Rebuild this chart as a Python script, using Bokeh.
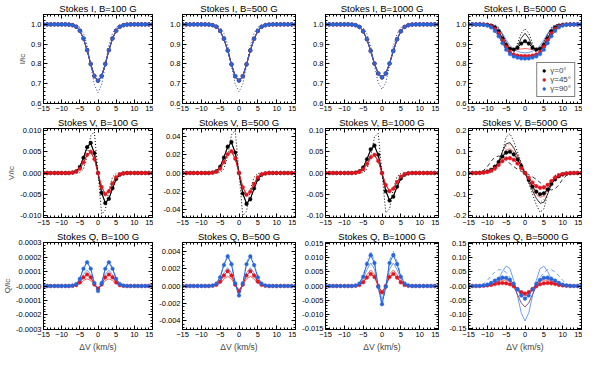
import math
from bokeh.plotting import figure
from bokeh.layouts import gridplot
from bokeh.models import (Range1d, SingleIntervalTicker, FixedTicker, PrintfTickFormatter,
                          LinearAxis, Legend, LegendItem)
from bokeh.embed import file_html
from bokeh.resources import INLINE

# ---------------- data ----------------
VEL = [-15, -14, -13, -12, -11, -10, -9, -8, -7, -6, -5, -4, -3, -2, -1, 0,
       1, 2, 3, 4, 5, 6, 7, 8, 9, 10, 11, 12, 13, 14, 15]

# Stokes I
I100_SYM = [1, 1, 1, 1, 1, 1, 1, 0.999, 0.996, 0.988, 0.968, 0.929, 0.870, 0.800, 0.739, 0.715,
            0.739, 0.800, 0.870, 0.929, 0.968, 0.988, 0.996, 0.999, 1, 1, 1, 1, 1, 1, 1]
I100_SOL = [1, 1, 1, 1, 1, 1, 1, 0.999, 0.996, 0.987, 0.966, 0.926, 0.866, 0.795, 0.734, 0.710,
            0.734, 0.795, 0.866, 0.926, 0.966, 0.987, 0.996, 0.999, 1, 1, 1, 1, 1, 1, 1]
I100_DOT = [1, 1, 1, 1, 1, 1, 1, 1.000, 0.999, 0.996, 0.985, 0.955, 0.895, 0.790, 0.695, 0.655,
            0.695, 0.790, 0.895, 0.955, 0.985, 0.996, 0.999, 1.000, 1, 1, 1, 1, 1, 1, 1]
I500_SYM = [1, 1, 1, 1, 1, 1, 1, 0.999, 0.996, 0.988, 0.967, 0.927, 0.868, 0.798, 0.738, 0.716,
            0.738, 0.798, 0.868, 0.927, 0.967, 0.988, 0.996, 0.999, 1, 1, 1, 1, 1, 1, 1]
I500_SOL = [1, 1, 1, 1, 1, 1, 1, 0.999, 0.996, 0.987, 0.965, 0.925, 0.864, 0.793, 0.733, 0.711,
            0.733, 0.793, 0.864, 0.925, 0.965, 0.987, 0.996, 0.999, 1, 1, 1, 1, 1, 1, 1]
I500_DOT = [1, 1, 1, 1, 1, 1, 1, 1.000, 0.999, 0.996, 0.985, 0.955, 0.894, 0.790, 0.697, 0.660,
            0.697, 0.790, 0.894, 0.955, 0.985, 0.996, 0.999, 1.000, 1, 1, 1, 1, 1, 1, 1]
I1000_SYM = [1, 1, 1, 1, 1, 1, 1, 0.999, 0.996, 0.987, 0.965, 0.925, 0.866, 0.802, 0.752, 0.732,
             0.752, 0.802, 0.866, 0.925, 0.965, 0.987, 0.996, 0.999, 1, 1, 1, 1, 1, 1, 1]
I1000_SOL = [1, 1, 1, 1, 1, 1, 1, 0.999, 0.996, 0.986, 0.964, 0.923, 0.862, 0.797, 0.746, 0.726,
             0.746, 0.797, 0.862, 0.923, 0.964, 0.986, 0.996, 0.999, 1, 1, 1, 1, 1, 1, 1]
I1000_DOT = [1, 1, 1, 1, 1, 1, 1, 1.000, 0.999, 0.995, 0.983, 0.952, 0.890, 0.790, 0.705, 0.672,
             0.705, 0.790, 0.890, 0.952, 0.983, 0.995, 0.999, 1.000, 1, 1, 1, 1, 1, 1, 1]
I5000_SYM_G0 = [1, 1, 1, 1, 0.999, 0.998, 0.994, 0.984, 0.965, 0.928, 0.895, 0.877, 0.873, 0.882, 0.903, 0.915,
                0.903, 0.882, 0.873, 0.877, 0.895, 0.928, 0.965, 0.984, 0.994, 0.998, 0.999, 1, 1, 1, 1]
I5000_SOL_G0 = [1, 1, 1, 1, 1, 0.999, 0.998, 0.993, 0.978, 0.950, 0.910, 0.878, 0.870, 0.888, 0.930, 0.955,
                0.930, 0.888, 0.870, 0.878, 0.910, 0.950, 0.978, 0.993, 0.998, 0.999, 1, 1, 1, 1, 1]
I5000_DOT_G0 = [1, 1, 1, 1, 1, 1, 1, 0.998, 0.985, 0.950, 0.890, 0.845, 0.855, 0.905, 0.955, 0.978,
                0.955, 0.905, 0.855, 0.845, 0.890, 0.950, 0.985, 0.998, 1, 1, 1, 1, 1, 1, 1]
I5000_SYM_G45 = [1, 1, 1, 1, 0.999, 0.997, 0.991, 0.978, 0.955, 0.920, 0.887, 0.862, 0.848, 0.842, 0.840, 0.840,
                 0.840, 0.842, 0.848, 0.862, 0.887, 0.920, 0.955, 0.978, 0.991, 0.997, 0.999, 1, 1, 1, 1]
I5000_SOL_G45 = [1, 1, 1, 1, 1, 0.999, 0.996, 0.986, 0.965, 0.935, 0.902, 0.878, 0.870, 0.872, 0.876, 0.878,
                 0.876, 0.872, 0.870, 0.878, 0.902, 0.935, 0.965, 0.986, 0.996, 0.999, 1, 1, 1, 1, 1]
I5000_SYM_G90 = [1, 1, 1, 0.999, 0.998, 0.994, 0.985, 0.967, 0.940, 0.905, 0.872, 0.850, 0.838, 0.832, 0.828, 0.827,
                 0.828, 0.832, 0.838, 0.850, 0.872, 0.905, 0.940, 0.967, 0.985, 0.994, 0.998, 0.999, 1, 1, 1]
I5000_SOL_G90 = [1, 1, 1, 1, 1, 1, 0.999, 0.994, 0.980, 0.955, 0.922, 0.893, 0.875, 0.864, 0.858, 0.856,
                 0.858, 0.864, 0.875, 0.893, 0.922, 0.955, 0.980, 0.994, 0.999, 1, 1, 1, 1, 1, 1]

# Stokes V
V100_SYM_G0 = [0, 0, 0, 0, 0, 0, 0, 0, 0.0001, 0.0004, 0.0014, 0.0036, 0.0061, 0.0071, 0.0047, 0,
               -0.0047, -0.0071, -0.0061, -0.0036, -0.0014, -0.0004, -0.0001, 0, 0, 0, 0, 0, 0, 0, 0]
V100_SOL_G0 = [0, 0, 0, 0, 0, 0, 0, 0, 0.0001, 0.0004, 0.0015, 0.0037, 0.0060, 0.0069, 0.0047, 0,
               -0.0047, -0.0069, -0.0060, -0.0037, -0.0015, -0.0004, -0.0001, 0, 0, 0, 0, 0, 0, 0, 0]
V100_DOT_G0 = [0, 0, 0, 0, 0, 0, 0, 0, 0, 0, 0.0001, 0.0009, 0.0040, 0.0088, 0.0097, 0,
               -0.0097, -0.0088, -0.0040, -0.0009, -0.0001, 0, 0, 0, 0, 0, 0, 0, 0, 0, 0]
V100_SYM_G45 = [0, 0, 0, 0, 0, 0, 0, 0, 0.0001, 0.0003, 0.0010, 0.0025, 0.0043, 0.0050, 0.0033, 0,
                -0.0033, -0.0050, -0.0043, -0.0025, -0.0010, -0.0003, -0.0001, 0, 0, 0, 0, 0, 0, 0, 0]
V100_SOL_G45 = [0, 0, 0, 0, 0, 0, 0, 0, 0.0001, 0.0003, 0.0010, 0.0024, 0.0041, 0.0048, 0.0033, 0,
                -0.0033, -0.0048, -0.0041, -0.0024, -0.0010, -0.0003, -0.0001, 0, 0, 0, 0, 0, 0, 0, 0]
V500_SYM_G0 = [0, 0, 0, 0, 0, 0, 0, 0, 0.0005, 0.0020, 0.0068, 0.0170, 0.0290, 0.0340, 0.0225, 0,
               -0.0225, -0.0340, -0.0290, -0.0170, -0.0068, -0.0020, -0.0005, 0, 0, 0, 0, 0, 0, 0, 0]
V500_SOL_G0 = [0, 0, 0, 0, 0, 0, 0, 0, 0.0006, 0.0022, 0.0070, 0.0175, 0.0285, 0.0330, 0.0225, 0,
               -0.0225, -0.0330, -0.0285, -0.0175, -0.0070, -0.0022, -0.0006, 0, 0, 0, 0, 0, 0, 0, 0]
V500_DOT_G0 = [0, 0, 0, 0, 0, 0, 0, 0, 0, 0, 0.0005, 0.0045, 0.0190, 0.0420, 0.0470, 0,
               -0.0470, -0.0420, -0.0190, -0.0045, -0.0005, 0, 0, 0, 0, 0, 0, 0, 0, 0, 0]
V500_SYM_G45 = [0, 0, 0, 0, 0, 0, 0, 0, 0.0004, 0.0014, 0.0048, 0.0120, 0.0206, 0.0240, 0.0158, 0,
                -0.0158, -0.0240, -0.0206, -0.0120, -0.0048, -0.0014, -0.0004, 0, 0, 0, 0, 0, 0, 0, 0]
V500_SOL_G45 = [0, 0, 0, 0, 0, 0, 0, 0, 0.0004, 0.0014, 0.0047, 0.0117, 0.0198, 0.0230, 0.0155, 0,
                -0.0155, -0.0230, -0.0198, -0.0117, -0.0047, -0.0014, -0.0004, 0, 0, 0, 0, 0, 0, 0, 0]
V1000_SYM_G0 = [0, 0, 0, 0, 0, 0, 0, 0, 0.0010, 0.0040, 0.0130, 0.0325, 0.0560, 0.0650, 0.0430, 0,
                -0.0430, -0.0650, -0.0560, -0.0325, -0.0130, -0.0040, -0.0010, 0, 0, 0, 0, 0, 0, 0, 0]
V1000_SOL_G0 = [0, 0, 0, 0, 0, 0, 0, 0, 0.0010, 0.0040, 0.0135, 0.0325, 0.0540, 0.0630, 0.0420, 0,
                -0.0420, -0.0630, -0.0540, -0.0325, -0.0135, -0.0040, -0.0010, 0, 0, 0, 0, 0, 0, 0, 0]
V1000_DOT_G0 = [0, 0, 0, 0, 0, 0, 0, 0, 0, 0, 0.0010, 0.0090, 0.0380, 0.0850, 0.0940, 0,
                -0.0940, -0.0850, -0.0380, -0.0090, -0.0010, 0, 0, 0, 0, 0, 0, 0, 0, 0, 0]
V1000_SYM_G45 = [0, 0, 0, 0, 0, 0, 0, 0, 0.0006, 0.0026, 0.0086, 0.0215, 0.0370, 0.0430, 0.0284, 0,
                 -0.0284, -0.0430, -0.0370, -0.0215, -0.0086, -0.0026, -0.0006, 0, 0, 0, 0, 0, 0, 0, 0]
V1000_SOL_G45 = [0, 0, 0, 0, 0, 0, 0, 0, 0.0006, 0.0025, 0.0083, 0.0210, 0.0350, 0.0410, 0.0280, 0,
                 -0.0280, -0.0410, -0.0350, -0.0210, -0.0083, -0.0025, -0.0006, 0, 0, 0, 0, 0, 0, 0, 0]
V5000_SYM_G0 = [0, 0, 0, 0.001, 0.003, 0.007, 0.015, 0.030, 0.052, 0.078, 0.096, 0.100, 0.088, 0.064, 0.033, 0,
                -0.033, -0.064, -0.088, -0.100, -0.096, -0.078, -0.052, -0.030, -0.015, -0.007, -0.003, -0.001, 0, 0, 0]
V5000_SOL_G0 = [0, 0, 0, 0, 0.001, 0.003, 0.010, 0.025, 0.055, 0.100, 0.138, 0.143, 0.120, 0.083, 0.042, 0,
                -0.042, -0.083, -0.120, -0.143, -0.138, -0.100, -0.055, -0.025, -0.010, -0.003, -0.001, 0, 0, 0, 0]
V5000_DOT_G0 = [0, 0, 0, 0, 0, 0, 0.003, 0.012, 0.040, 0.100, 0.170, 0.185, 0.150, 0.100, 0.050, 0,
                -0.050, -0.100, -0.150, -0.185, -0.170, -0.100, -0.040, -0.012, -0.003, 0, 0, 0, 0, 0, 0]
V5000_DASH_G0 = [0, 0, 0, 0.003, 0.012, 0.030, 0.055, 0.075, 0.080, 0.075, 0.060, 0.045, 0.030, 0.018, 0.008, 0,
                 -0.008, -0.018, -0.030, -0.045, -0.060, -0.075, -0.080, -0.075, -0.055, -0.030, -0.012, -0.003, 0, 0, 0]
V5000_SYM_G45 = [0, 0, 0, 0, 0.002, 0.005, 0.011, 0.022, 0.038, 0.056, 0.068, 0.070, 0.062, 0.045, 0.023, 0,
                 -0.023, -0.045, -0.062, -0.070, -0.068, -0.056, -0.038, -0.022, -0.011, -0.005, -0.002, 0, 0, 0, 0]
V5000_SOL_G45 = [0, 0, 0, 0, 0, 0.003, 0.008, 0.020, 0.045, 0.080, 0.108, 0.115, 0.100, 0.070, 0.035, 0,
                 -0.035, -0.070, -0.100, -0.115, -0.108, -0.080, -0.045, -0.020, -0.008, -0.003, 0, 0, 0, 0, 0]
V5000_DOT_G45 = [0, 0, 0, 0, 0, 0, 0.002, 0.008, 0.030, 0.075, 0.125, 0.138, 0.115, 0.078, 0.040, 0,
                 -0.040, -0.078, -0.115, -0.138, -0.125, -0.075, -0.030, -0.008, -0.002, 0, 0, 0, 0, 0, 0]

# Stokes Q
Q100_SYM_G90 = [0, 0, 0, 0, 0, 0, 0, 0, 3e-6, 1.3e-5, 5e-5, 1.2e-4, 1.65e-4, 1.2e-4, 2e-5, -3.5e-5,
                2e-5, 1.2e-4, 1.65e-4, 1.2e-4, 5e-5, 1.3e-5, 3e-6, 0, 0, 0, 0, 0, 0, 0, 0]
Q100_SOL_G90 = [0, 0, 0, 0, 0, 0, 0, 0, 2e-6, 1e-5, 3.5e-5, 8e-5, 1.1e-4, 8e-5, 1.5e-5, -2e-5,
                1.5e-5, 8e-5, 1.1e-4, 8e-5, 3.5e-5, 1e-5, 2e-6, 0, 0, 0, 0, 0, 0, 0, 0]
Q100_DD_G90 = [0, 0, 0, 0, 0, 0, 0, 0, 4e-6, 1.5e-5, 5.5e-5, 1.25e-4, 1.7e-4, 1.25e-4, 2e-5, -4e-5,
               2e-5, 1.25e-4, 1.7e-4, 1.25e-4, 5.5e-5, 1.5e-5, 4e-6, 0, 0, 0, 0, 0, 0, 0, 0]
Q100_SYM_G45 = [0, 0, 0, 0, 0, 0, 0, 0, 1e-6, 6e-6, 2.5e-5, 6e-5, 8e-5, 6e-5, 1e-5, -1.8e-5,
                1e-5, 6e-5, 8e-5, 6e-5, 2.5e-5, 6e-6, 1e-6, 0, 0, 0, 0, 0, 0, 0, 0]
Q100_SOL_G45 = [0, 0, 0, 0, 0, 0, 0, 0, 1e-6, 4e-6, 1.6e-5, 3.8e-5, 5e-5, 3.8e-5, 7e-6, -1.2e-5,
                7e-6, 3.8e-5, 5e-5, 3.8e-5, 1.6e-5, 4e-6, 1e-6, 0, 0, 0, 0, 0, 0, 0, 0]
Q500_SYM_G90 = [0, 0, 0, 0, 0, 0, 0, 0, 0.00006, 0.00027, 0.0010, 0.0024, 0.0034, 0.0025, 0.0003, -0.0011,
                0.0003, 0.0025, 0.0034, 0.0024, 0.0010, 0.00027, 0.00006, 0, 0, 0, 0, 0, 0, 0, 0]
Q500_SOL_G90 = [0, 0, 0, 0, 0, 0, 0, 0, 0.00004, 0.00017, 0.00065, 0.0015, 0.0021, 0.0015, 0.0002, -0.0007,
                0.0002, 0.0015, 0.0021, 0.0015, 0.00065, 0.00017, 0.00004, 0, 0, 0, 0, 0, 0, 0, 0]
Q500_DD_G90 = [0, 0, 0, 0, 0, 0, 0, 0, 0.00007, 0.0003, 0.0011, 0.0026, 0.0036, 0.0027, 0.0003, -0.0012,
               0.0003, 0.0027, 0.0036, 0.0026, 0.0011, 0.0003, 0.00007, 0, 0, 0, 0, 0, 0, 0, 0]
Q500_SYM_G45 = [0, 0, 0, 0, 0, 0, 0, 0, 0.00003, 0.00013, 0.0005, 0.0012, 0.0017, 0.0012, 0.00015, -0.0006,
                0.00015, 0.0012, 0.0017, 0.0012, 0.0005, 0.00013, 0.00003, 0, 0, 0, 0, 0, 0, 0, 0]
Q500_SOL_G45 = [0, 0, 0, 0, 0, 0, 0, 0, 0.00002, 0.00009, 0.00033, 0.0008, 0.0011, 0.0008, 0.0001, -0.0004,
                0.0001, 0.0008, 0.0011, 0.0008, 0.00033, 0.00009, 0.00002, 0, 0, 0, 0, 0, 0, 0, 0]
Q1000_SYM_G90 = [0, 0, 0, 0, 0, 0, 0, 0, 0.0002, 0.0009, 0.0033, 0.0078, 0.0110, 0.0082, -0.0003, -0.0065,
                 -0.0003, 0.0082, 0.0110, 0.0078, 0.0033, 0.0009, 0.0002, 0, 0, 0, 0, 0, 0, 0, 0]
Q1000_SOL_G90 = [0, 0, 0, 0, 0, 0, 0, 0, 0.00015, 0.0007, 0.0025, 0.0058, 0.0082, 0.0060, -0.0002, -0.0050,
                 -0.0002, 0.0060, 0.0082, 0.0058, 0.0025, 0.0007, 0.00015, 0, 0, 0, 0, 0, 0, 0, 0]
Q1000_DD_G90 = [0, 0, 0, 0, 0, 0, 0, 0, 0.0002, 0.0010, 0.0037, 0.0088, 0.0123, 0.0092, -0.0003, -0.0072,
                -0.0003, 0.0092, 0.0123, 0.0088, 0.0037, 0.0010, 0.0002, 0, 0, 0, 0, 0, 0, 0, 0]
Q1000_SYM_G45 = [0, 0, 0, 0, 0, 0, 0, 0, 0.00008, 0.00035, 0.0013, 0.0030, 0.0043, 0.0032, 0.0000, -0.0022,
                 0.0000, 0.0032, 0.0043, 0.0030, 0.0013, 0.00035, 0.00008, 0, 0, 0, 0, 0, 0, 0, 0]
Q1000_SOL_G45 = [0, 0, 0, 0, 0, 0, 0, 0, 0.0001, 0.00045, 0.0017, 0.0040, 0.0057, 0.0042, 0.0001, -0.0030,
                 0.0001, 0.0042, 0.0057, 0.0040, 0.0017, 0.00045, 0.0001, 0, 0, 0, 0, 0, 0, 0, 0]
Q5000_SYM_G90 = [0, 0, 0, 0.0005, 0.002, 0.005, 0.011, 0.019, 0.026, 0.030, 0.029, 0.022, 0.008, -0.012, -0.034, -0.045,
                 -0.034, -0.012, 0.008, 0.022, 0.029, 0.030, 0.026, 0.019, 0.011, 0.005, 0.002, 0.0005, 0, 0, 0]
Q5000_SOL_G90 = [0, 0, 0, 0, 0, 0, 0.002, 0.008, 0.025, 0.052, 0.071, 0.062, 0.020, -0.035, -0.095, -0.125,
                 -0.095, -0.035, 0.020, 0.062, 0.071, 0.052, 0.025, 0.008, 0.002, 0, 0, 0, 0, 0, 0]
Q5000_DASH_G90 = [0, 0, 0, 0.002, 0.008, 0.020, 0.036, 0.050, 0.058, 0.058, 0.048, 0.030, 0.008, -0.010, -0.025, -0.030,
                  -0.025, -0.010, 0.008, 0.030, 0.048, 0.058, 0.058, 0.050, 0.036, 0.020, 0.008, 0.002, 0, 0, 0]
Q5000_SYM_G45 = [0, 0, 0, 0, 0.0008, 0.002, 0.004, 0.007, 0.0095, 0.0105, 0.0095, 0.006, -0.001, -0.011, -0.022, -0.027,
                 -0.022, -0.011, -0.001, 0.006, 0.0095, 0.0105, 0.0095, 0.007, 0.004, 0.002, 0.0008, 0, 0, 0, 0]
Q5000_SOL_G45 = [0, 0, 0, 0, 0, 0.001, 0.004, 0.009, 0.015, 0.020, 0.021, 0.016, 0.004, -0.013, -0.029, -0.036,
                 -0.029, -0.013, 0.004, 0.016, 0.021, 0.020, 0.015, 0.009, 0.004, 0.001, 0, 0, 0, 0, 0]
Q5000_SOL_ALT = [0, 0, 0, 0, 0, 0.001, 0.004, 0.010, 0.018, 0.025, 0.027, 0.018, -0.002, -0.030, -0.060, -0.075,
                 -0.060, -0.030, -0.002, 0.018, 0.027, 0.025, 0.018, 0.010, 0.004, 0.001, 0, 0, 0, 0, 0]

# ---------------- style ----------------
FONT = "Liberation Sans"
BLACK = "#000000"
RED = "#e3141e"
BLUE = "#2466dc"
RED_L = "#f06b6b"
BLUE_L = "#6c9ef0"
NAVY = "#2a3f9a"
PURPLE = "#7a2858"

FRAME_W = 113
FRAME_H = 90
X_LO, X_HI = -15, 15


def style_axis(ax):
    ax.major_tick_in = 4
    ax.major_tick_out = 0
    ax.minor_tick_in = 2
    ax.minor_tick_out = 0
    ax.axis_line_color = "black"
    ax.major_tick_line_color = "black"
    ax.minor_tick_line_color = "black"
    ax.major_label_text_font = FONT
    ax.major_label_text_color = "black"
    ax.major_label_text_font_size = "7.5px"
    ax.major_label_standoff = 2


def tick_positions(lo, hi, step):
    k0 = math.ceil(lo / step - 1e-6)
    k1 = math.floor(hi / step + 1e-6)
    return [round(k * step, 10) for k in range(k0, k1 + 1)]


def mirror_ticks(p, ylo, yhi, yint):
    """Unlabelled inward ticks on the top and right edges (IDL style box)."""
    specs = [("above", tick_positions(X_LO, X_HI, 5), 4),
             ("above", tick_positions(X_LO, X_HI, 1), 2),
             ("right", tick_positions(ylo, yhi, yint), 4),
             ("right", tick_positions(ylo, yhi, yint / 5.0), 2)]
    for side, pos, length in specs:
        ax = LinearAxis(ticker=FixedTicker(ticks=[], minor_ticks=pos))
        ax.major_tick_in = 0
        ax.major_tick_out = 0
        ax.minor_tick_in = length
        ax.minor_tick_out = 0
        ax.minor_tick_line_color = "black"
        ax.axis_line_color = "black"
        ax.major_label_standoff = 0
        p.add_layout(ax, side)


def make_panel(col, row, title, yr, yint, fmt, zero_label=None, ylabel=None):
    left = 39 if col == 0 else 29
    bottom = 23 if row == 2 else 11
    top = 13
    p = figure(width=left + FRAME_W + 1, height=top + FRAME_H + bottom,
               x_range=Range1d(X_LO, X_HI), y_range=Range1d(yr[0], yr[1]),
               output_backend="svg", toolbar_location=None, title=title,
               min_border_left=left, min_border_right=1,
               min_border_top=top, min_border_bottom=bottom)
    p.grid.visible = False
    p.outline_line_color = "black"
    p.background_fill_color = "white"
    p.border_fill_color = "white"
    p.title.text_font = FONT
    p.title.text_font_size = "9.5px"
    p.title.text_font_style = "normal"
    p.title.text_color = "black"
    p.title.align = "center"
    p.title.standoff = 1
    p.xaxis.ticker = SingleIntervalTicker(interval=5, num_minor_ticks=5)
    p.yaxis.ticker = SingleIntervalTicker(interval=yint, num_minor_ticks=5)
    p.yaxis.formatter = PrintfTickFormatter(format=fmt)
    if zero_label is not None:
        p.yaxis.major_label_overrides = {0: zero_label}
    for ax in list(p.xaxis) + list(p.yaxis):
        style_axis(ax)
    if ylabel:
        p.yaxis.axis_label = ylabel
        p.yaxis.axis_label_text_font = FONT
        p.yaxis.axis_label_text_font_size = "8px"
        p.yaxis.axis_label_text_font_style = "normal"
        p.yaxis.axis_label_standoff = 1
    if row == 2:
        p.xaxis.axis_label = "ΔV (km/s)"
        p.xaxis.axis_label_text_font = FONT
        p.xaxis.axis_label_text_font_size = "8.5px"
        p.xaxis.axis_label_text_font_style = "normal"
        p.xaxis.axis_label_standoff = 2
    mirror_ticks(p, yr[0], yr[1], yint)
    return p


def sym(p, y, color):
    p.line(VEL, y, line_color=color, line_width=1)
    return p.scatter(VEL, y, size=3.6, fill_color=color, line_color=color,
                     line_width=0.5, marker="circle")


def line(p, y, color, dash="solid", width=1.0):
    p.line(VEL, y, line_color=color, line_width=width, line_dash=dash)


# Row 1: Stokes I
row1 = []
for col, (b, ysym, ysol, ydot) in enumerate([
        ("100", I100_SYM, I100_SOL, I100_DOT),
        ("500", I500_SYM, I500_SOL, I500_DOT),
        ("1000", I1000_SYM, I1000_SOL, I1000_DOT)]):
    p = make_panel(col, 0, "Stokes I, B=%s G" % b, (0.6, 1.05), 0.1, "%.1f",
                   ylabel="I/Ic" if col == 0 else None)
    line(p, ydot, NAVY, "1 2")
    line(p, ysol, BLUE_L)
    sym(p, ysym, BLACK)
    sym(p, ysym, RED)
    sym(p, ysym, BLUE)
    row1.append(p)

p = make_panel(3, 0, "Stokes I, B=5000 G", (0.6, 1.05), 0.1, "%.1f")
line(p, I5000_DOT_G0, BLACK, "1 2")
line(p, I5000_SOL_G0, BLACK, width=0.8)
line(p, I5000_SOL_G45, RED_L)
line(p, I5000_SOL_G90, BLUE_L)
r0 = sym(p, I5000_SYM_G0, BLACK)
r45 = sym(p, I5000_SYM_G45, RED)
r90 = sym(p, I5000_SYM_G90, BLUE)
leg = Legend(items=[LegendItem(label="γ=0°", renderers=[r0]),
                    LegendItem(label="γ=45°", renderers=[r45]),
                    LegendItem(label="γ=90°", renderers=[r90])],
             location="bottom_right", label_text_font=FONT,
             label_text_font_size="8px", glyph_width=7, glyph_height=7,
             label_height=7, spacing=0, padding=3, margin=6, label_standoff=3,
             border_line_color="black", border_line_width=1,
             background_fill_color="white", background_fill_alpha=1)
p.add_layout(leg)
row1.append(p)

# Row 2: Stokes V
row2 = []
vspec = [("100", (-0.0105, 0.0105), 0.005, "%.3f", V100_SYM_G0, V100_SOL_G0, V100_DOT_G0, V100_SYM_G45, V100_SOL_G45),
         ("500", (-0.049, 0.049), 0.02, "%.2f", V500_SYM_G0, V500_SOL_G0, V500_DOT_G0, V500_SYM_G45, V500_SOL_G45),
         ("1000", (-0.105, 0.105), 0.05, "%.2f", V1000_SYM_G0, V1000_SOL_G0, V1000_DOT_G0, V1000_SYM_G45, V1000_SOL_G45)]
for col, (b, yr, yint, fmt, s0, l0, d0, s45, l45) in enumerate(vspec):
    p = make_panel(col, 1, "Stokes V, B=%s G" % b, yr, yint, fmt,
                   ylabel="V/Ic" if col == 0 else None)
    line(p, d0, BLACK, "1 2")
    line(p, l0, BLACK, width=0.8)
    line(p, l45, RED_L)
    sym(p, s0, BLACK)
    sym(p, s45, RED)
    row2.append(p)

p = make_panel(3, 1, "Stokes V, B=5000 G", (-0.21, 0.21), 0.1, "%.1f")
line(p, V5000_DOT_G0, BLACK, "1 2")
line(p, V5000_DASH_G0, BLACK, "4 3", width=0.8)
line(p, V5000_SOL_G0, BLACK, width=0.8)
line(p, V5000_DOT_G45, RED_L, "1 2")
line(p, V5000_SOL_G45, RED_L)
sym(p, V5000_SYM_G0, BLACK)
sym(p, V5000_SYM_G45, RED)
row2.append(p)

# Row 3: Stokes Q
row3 = []
qspec = [("100", (-0.000302, 0.000302), 0.0001, "%.4f", "-0.0000", Q100_SYM_G90, Q100_SOL_G90, Q100_DD_G90, Q100_SYM_G45, Q100_SOL_G45),
         ("500", (-0.005, 0.005), 0.002, "%.3f", None, Q500_SYM_G90, Q500_SOL_G90, Q500_DD_G90, Q500_SYM_G45, Q500_SOL_G45),
         ("1000", (-0.0155, 0.0155), 0.005, "%.3f", None, Q1000_SYM_G90, Q1000_SOL_G90, Q1000_DD_G90, Q1000_SYM_G45, Q1000_SOL_G45)]
for col, (b, yr, yint, fmt, zl, s90, l90, dd90, s45, l45) in enumerate(qspec):
    p = make_panel(col, 2, "Stokes Q, B=%s G" % b, yr, yint, fmt, zero_label=zl,
                   ylabel="Q/Ic" if col == 0 else None)
    line(p, dd90, BLUE_L, "4 2 1 2")
    line(p, l90, BLUE_L)
    line(p, l45, RED_L)
    sym(p, s45, RED)
    sym(p, s90, BLUE)
    row3.append(p)

p = make_panel(3, 2, "Stokes Q, B=5000 G", (-0.155, 0.155), 0.05, "%.2f", zero_label="-0.00")
line(p, Q5000_DASH_G90, BLUE_L, "4 3")
line(p, Q5000_SOL_G90, BLUE_L)
line(p, Q5000_SOL_ALT, PURPLE, width=0.8)
line(p, Q5000_SOL_G45, RED_L)
sym(p, Q5000_SYM_G45, RED)
sym(p, Q5000_SYM_G90, BLUE)
row3.append(p)

grid = gridplot([row1, row2, row3], toolbar_location=None)

open("out.html", "w").write(file_html(grid, INLINE))
